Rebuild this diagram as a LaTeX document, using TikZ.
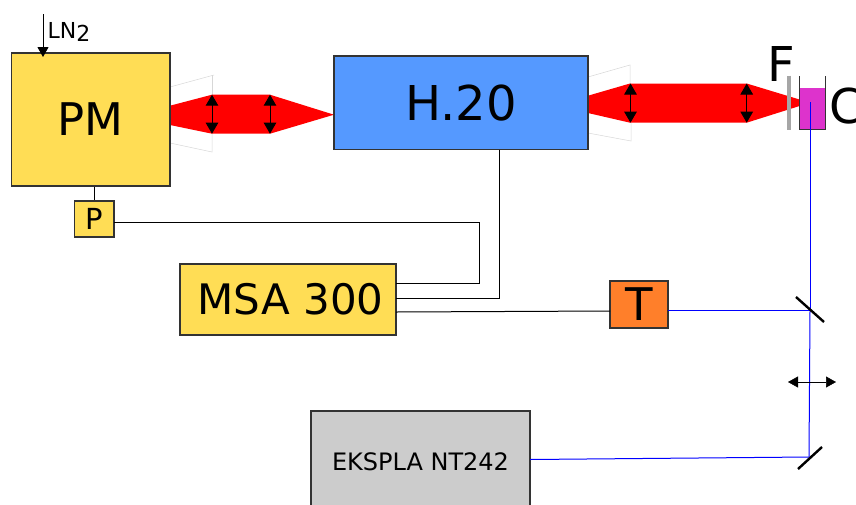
\documentclass[tikz,border=0pt]{standalone}
\usepackage{fontspec}
\setmainfont{DejaVu Sans}
\usepackage{xcolor}
\definecolor{pmyellow}{RGB}{255, 221, 85}
\definecolor{hblue}{RGB}{85, 153, 255}
\definecolor{torange}{RGB}{255, 127, 42}
\definecolor{lasergrey}{RGB}{204, 204, 204}
\definecolor{cellpink}{RGB}{221, 51, 204}
\definecolor{edgegrey}{RGB}{51, 51, 51}
\definecolor{ghostgrey}{RGB}{215, 215, 215}
\usepackage{tikz}
\usetikzlibrary{arrows.meta}

\begin{document}
\begin{tikzpicture}[
  x=1pt, y=-1pt,
  box/.style={draw=edgegrey, inner sep=0pt, line width=1.2pt},
  bigtext/.style={font=\fontsize{48}{48}\selectfont},
  wire/.style={draw=black, line width=1pt},
  pulse/.style={draw=blue, line width=1pt},
  beam/.style={fill=red, draw=none},
  ghost/.style={draw=ghostgrey, line width=0.5pt},
  lens/.style={{Triangle[length=11pt,width=12.5pt]}-{Triangle[length=11pt,width=12.5pt]}, line width=1pt},
  slide/.style={{Triangle[length=10pt,width=11pt]}-{Triangle[length=10pt,width=11pt]}, line width=0.5pt},
  mirror/.style={line width=2.4pt}
]
\useasboundingbox (0,0) rectangle (856,504);

\draw[ghost] (170,87) -- (214,75);
\draw[ghost] (212,75) -- (212,95);
\draw[ghost] (170,143) -- (212,152) -- (212,134);
\draw[ghost] (588,77) -- (630,65) -- (630,84);
\draw[ghost] (588,133) -- (631,141) -- (631,123);

\fill[beam] (170,105.7) -- (212,94.7) -- (270,94.7) -- (334,114.7) -- (270,133.7) -- (212,133.7) -- (170,125) -- cycle;
\fill[beam] (588,95.7) -- (630,83.5) -- (746.7,83.5) -- (810,102.7) -- (746.7,122.7) -- (630,122.7) -- (588,113) -- cycle;

\node[box, fill=pmyellow, minimum width=158.5pt, minimum height=133pt, font=\fontsize{45}{45}\selectfont] (pm) at (90.75,119.5) {PM\hspace{17pt}};
\node[box, fill=pmyellow, minimum width=39.5pt, minimum height=36pt, font=\fontsize{29}{29}\selectfont] (p) at (94.25,219) {\hspace{-1pt}P};
\node[box, fill=hblue, minimum width=254pt, minimum height=93.5pt, bigtext] (h20) at (461,102.75) {\raisebox{-2pt}{H.20}\hspace{12pt}};
\node[box, fill=pmyellow, minimum width=216pt, minimum height=71pt, font=\fontsize{42}{42}\selectfont] (msa) at (288,299.5) {\hspace{5pt}\raisebox{-2pt}{MSA 300}};
\node[box, fill=torange, minimum width=58pt, minimum height=47pt, font=\fontsize{45}{45}\selectfont] (t) at (639,304.5) {T\hspace{7pt}};
\node[box, fill=lasergrey, minimum width=219pt, minimum height=102pt, font=\fontsize{24}{24}\selectfont] (laser) at (420.5,462) {EKSPLA NT242};

\node[bigtext, inner sep=0pt] (f) at (781,64) {F};
\node[bigtext, inner sep=0pt] (c) at (846.5,106) {C};
\node[inner sep=0pt, anchor=west, font=\fontsize{22}{22}\selectfont] (ln) at (47.5,31.5) {LN\raisebox{-3pt}{2}};

\coordinate (lnstart) at (43,14);
\coordinate (lnend) at (43,57);
\draw[wire, -{Triangle[length=10pt,width=11pt]}] (lnstart) -- (lnend);

\fill[cellpink] (799,88) rectangle (825.7,129);
\draw[line width=1pt, edgegrey] (799,76) -- (799,129) -- (825.7,129) -- (825.7,76);
\draw[line width=4pt, color=black!35] (789,75.7) -- (789,130);

\coordinate (tip) at (810,102);
\coordinate (mirrora) at (810,310.5);
\coordinate (mirrorb) at (809,457);
\coordinate (slidel) at (788,382);
\coordinate (slider) at (836,382);
\coordinate (msah) at (396,298);
\coordinate (msap) at (396,283);
\coordinate (msat) at (396,312);
\coordinate (pout) at (114,222);
\coordinate (hout) at (499,149.5);
\coordinate (tin) at (610,311);
\coordinate (tout) at (668,310.5);
\coordinate (laserout) at (530,459.5);

\draw[wire] (p.north |- pm.south) -- (p.north);
\draw[wire] (pout) -- (479,222) -- (479,283) -- (msap);
\draw[wire] (hout) -- (499,298) -- (msah);
\draw[wire] (msat) -- (tin);

\draw[pulse] (tip) -- (mirrora);
\draw[pulse] (mirrora) -- (mirrorb);
\draw[pulse] (tout) -- (mirrora);
\draw[pulse] (laserout) -- (mirrorb);

\draw[mirror] (796,297) -- (824,322);
\draw[mirror] (798,469) -- (822,447);
\draw[slide] (slidel) -- (slider);

\draw[lens] (212,94.7) -- (212,133.7);
\draw[lens] (270,94.7) -- (270,133.7);
\draw[lens] (630.5,83.5) -- (630.5,122.7);
\draw[lens] (746.7,83.5) -- (746.7,122.7);
\end{tikzpicture}
\end{document}
